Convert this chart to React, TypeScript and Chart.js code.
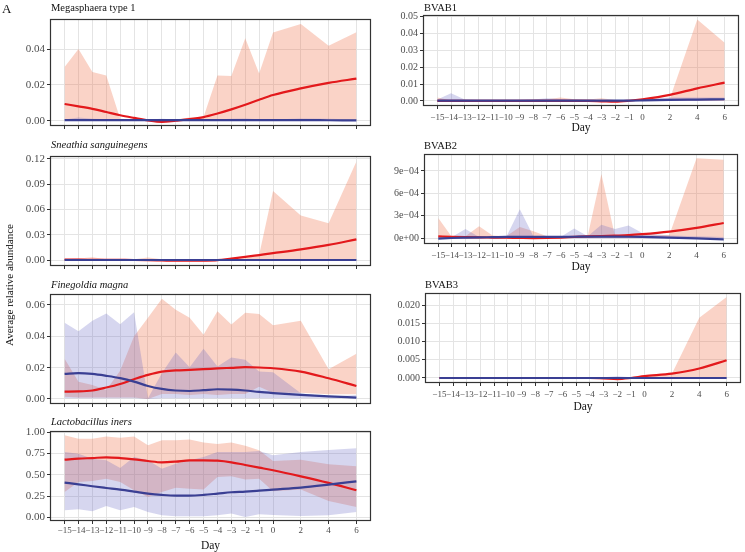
import React, { useEffect, useRef } from "react";
import { Chart, registerables } from "chart.js";

Chart.register(...registerables);

// ---------- data ----------
const DAYS = [-15, -14, -13, -12, -11, -10, -9, -8, -7, -6, -5, -4, -3, -2, -1, 0, 2, 4, 6];
const X_TICKS = [-15, -14, -13, -12, -11, -10, -9, -8, -7, -6, -5, -4, -3, -2, -1, 0, 2, 4, 6];

const ZEROS = [0, 0, 0, 0, 0, 0, 0, 0, 0, 0, 0, 0, 0, 0, 0, 0, 0, 0, 0];

// Megasphaera type 1
const MEGA_RED_UP = [0.03, 0.04, 0.0272, 0.0252, 0.001, 0.0006, 0.0006, 0.0006, 0.0006, 0.0017, 0.002, 0.0252, 0.025, 0.046, 0.0263, 0.0492, 0.054, 0.0418, 0.0494];
const MEGA_RED_LO = ZEROS;
const MEGA_BLUE_UP = [0.0006, 0.0017, 0.001, 0.0008, 0.0006, 0.0006, 0.0006, 0.001, 0.0006, 0.0006, 0.0008, 0.0006, 0.001, 0.0012, 0.0008, 0.0006, 0.0012, 0.001, 0.0006];
const MEGA_BLUE_LO = ZEROS;
const MEGA_RED_FIT = [0.0093, 0.008, 0.0066, 0.0048, 0.003, 0.0015, 0.0001, -0.0007, 0.0, 0.0008, 0.002, 0.004, 0.0063, 0.0089, 0.0117, 0.0143, 0.018, 0.0211, 0.0235];
const MEGA_BLUE_FIT = [0.0003, 0.0003, 0.0003, 0.0003, 0.0003, 0.0003, 0.0003, 0.0003, 0.0003, 0.0003, 0.0003, 0.0003, 0.0003, 0.0003, 0.0003, 0.0003, 0.0003, 0.0002, 0.0001];

// Sneathia sanguinegens
const SNEA_RED_UP = [0.001, 0.002, 0.0035, 0.001, 0.001, 0.001, 0.003, 0.001, 0.0005, 0.0005, 0.0005, 0.0005, 0.001, 0.002, 0.006, 0.082, 0.053, 0.0437, 0.117];
const SNEA_RED_LO = ZEROS;
const SNEA_BLUE_UP = [0.0006, 0.0006, 0.0006, 0.0006, 0.0006, 0.0006, 0.0006, 0.0006, 0.0006, 0.0006, 0.0006, 0.0006, 0.0006, 0.0006, 0.0006, 0.0006, 0.0006, 0.0006, 0.0006];
const SNEA_BLUE_LO = ZEROS;
const SNEA_RED_FIT = [0.0005, 0.0005, 0.0004, 0.0003, 0.0002, 0.0001, -0.0001, -0.0004, -0.0007, -0.0008, -0.0006, 0.0, 0.0018, 0.0038, 0.006, 0.0082, 0.0127, 0.018, 0.0246];
const SNEA_BLUE_FIT = [0.0001, 0.0001, 0.0001, 0.0001, 0.0001, 0.0001, 0.0001, 0.0001, 0.0001, 0.0001, 0.0001, 0.0001, 0.0001, 0.0001, 0.0001, 0.0001, 0.0001, 0.0001, 0.0001];

// Finegoldia magna
const FINE_RED_UP = [0.0257, 0.011, 0.009, 0.0058, 0.018, 0.04, 0.0518, 0.064, 0.057, 0.0518, 0.041, 0.056, 0.0475, 0.055, 0.0542, 0.047, 0.05, 0.019, 0.0288];
const FINE_RED_LO = [0.0015, 0.001, 0.001, 0.001, 0.001, 0.001, 0.0, 0.0032, 0.0032, 0.0026, 0.0032, 0.0026, 0.0032, 0.0032, 0.0078, 0.004, 0.004, 0.003, 0.003];
const FINE_BLUE_UP = [0.0486, 0.0432, 0.05, 0.0546, 0.0477, 0.0554, 0.0004, 0.0165, 0.0297, 0.0203, 0.032, 0.0208, 0.0265, 0.025, 0.0175, 0.017, 0.0036, 0.0015, 0.0026];
const FINE_BLUE_LO = [0.0005, 0.0005, 0.0005, 0.0005, 0.0005, 0.0005, 0.0, 0.0005, 0.0005, 0.0005, 0.0005, 0.0005, 0.0005, 0.0005, 0.0005, 0.0005, 0.0005, 0.0005, 0.0005];
const FINE_RED_FIT = [0.0047, 0.0048, 0.0054, 0.0073, 0.0096, 0.0126, 0.0154, 0.0175, 0.0182, 0.0186, 0.019, 0.0195, 0.0199, 0.0203, 0.0201, 0.0196, 0.0175, 0.0132, 0.0083];
const FINE_BLUE_FIT = [0.016, 0.0165, 0.016, 0.0148, 0.0133, 0.0111, 0.0083, 0.0064, 0.0054, 0.0051, 0.0056, 0.0062, 0.006, 0.0054, 0.0045, 0.0038, 0.0026, 0.0017, 0.0009];

// Lactobacillus iners
const LINE_RED_UP = [0.961, 0.922, 0.922, 0.949, 0.934, 0.949, 0.844, 0.903, 0.903, 0.914, 0.879, 0.86, 0.879, 0.84, 0.786, 0.661, 0.677, 0.623, 0.6];
const LINE_RED_LO = [0.3, 0.416, 0.428, 0.455, 0.416, 0.319, 0.241, 0.3, 0.35, 0.338, 0.327, 0.475, 0.482, 0.444, 0.455, 0.307, 0.327, 0.195, 0.125];
const LINE_BLUE_UP = [0.767, 0.747, 0.689, 0.669, 0.58, 0.708, 0.669, 0.572, 0.63, 0.669, 0.708, 0.767, 0.767, 0.767, 0.778, 0.728, 0.767, 0.79, 0.81];
const LINE_BLUE_LO = [0.086, 0.097, 0.074, 0.136, 0.086, 0.125, 0.066, 0.027, 0.016, 0.016, 0.016, 0.027, 0.047, 0.008, 0.039, 0.031, 0.019, 0.027, 0.066];
const LINE_RED_FIT = [0.677, 0.689, 0.696, 0.704, 0.696, 0.681, 0.661, 0.646, 0.654, 0.669, 0.669, 0.665, 0.646, 0.615, 0.584, 0.553, 0.482, 0.405, 0.319];
const LINE_BLUE_FIT = [0.409, 0.389, 0.366, 0.346, 0.327, 0.304, 0.28, 0.265, 0.257, 0.257, 0.265, 0.28, 0.296, 0.304, 0.315, 0.327, 0.35, 0.385, 0.424];

// BVAB1
const B1_RED_UP = [0.002, 0.0003, 0.0003, 0.0003, 0.0003, 0.0003, 0.0005, 0.0008, 0.001, 0.002, 0.001, 0.0008, 0.0016, 0.0005, 0.0003, 0.0005, 0.0015, 0.0484, 0.0346];
const B1_RED_LO = ZEROS;
const B1_BLUE_UP = [0.0008, 0.0045, 0.0008, 0.0005, 0.0005, 0.0005, 0.0005, 0.0008, 0.0016, 0.0012, 0.0008, 0.0005, 0.0005, 0.0005, 0.0005, 0.001, 0.002, 0.002, 0.002];
const B1_BLUE_LO = ZEROS;
const B1_RED_FIT = [0.0, 0.0, 0.0, 0.0, 0.0, 0.0, 0.0, 0.0, 0.0, 0.0, 0.0, 0.0, -0.0002, -0.0004, 0.0001, 0.001, 0.0036, 0.0075, 0.0109];
const B1_BLUE_FIT = [0.0002, 0.0002, 0.0002, 0.0002, 0.0002, 0.0002, 0.0002, 0.0002, 0.0002, 0.0002, 0.0002, 0.0002, 0.0002, 0.0002, 0.0002, 0.0003, 0.0006, 0.0008, 0.001];

// BVAB2
const B2_RED_UP = [0.00027, 0.000018, 0.000027, 0.00016, 0.000036, 0.000027, 0.00015, 0.000094, 0.000027, 0.000027, 0.000027, 0.000036, 0.00086, 0.000027, 0.000027, 0.000036, 0.000045, 0.00107, 0.00105];
const B2_RED_LO = [0.000005, 0.000005, 0.000005, 0.000005, 0.000005, 0.000005, 0.000005, 0.000005, 0.000005, 0.000005, 0.000005, 0.000005, 0.000005, 0.000005, 0.000005, 0.000005, 0.000005, 0.000005, 0.000005];
const B2_BLUE_UP = [0.0, 0.000018, 0.000125, 0.000018, 0.000018, 0.000018, 0.00039, 0.000027, 0.000018, 0.000018, 0.00013, 0.000027, 0.00018, 0.000125, 0.00017, 0.00007, 0.000036, 0.000027, 0.000018];
const B2_BLUE_LO = ZEROS;
const B2_RED_FIT = [0.000027, 0.00002, 0.000015, 0.000012, 0.00001, 0.000008, 0.000005, 0.000003, 0.000005, 0.00001, 0.000018, 0.000025, 0.000031, 0.000036, 0.000042, 0.000055, 0.00009, 0.00014, 0.000205];
const B2_BLUE_FIT = [-0.000004, 0.000004, 0.000009, 0.000013, 0.000015, 0.000018, 0.000018, 0.000018, 0.000019, 0.00002, 0.000021, 0.000022, 0.000022, 0.000022, 0.000021, 0.000018, 0.000009, -0.000002, -0.000013];

// BVAB3
const B3_RED_UP = [0.0001, 0.0001, 0.0001, 0.0001, 0.0001, 0.0001, 0.0001, 0.0001, 0.0001, 0.0001, 0.0001, 0.0001, 0.0001, 0.0001, 0.0001, 0.0002, 0.0012, 0.0166, 0.0223];
const B3_RED_LO = ZEROS;
const B3_BLUE_UP = [0.0001, 0.0001, 0.0001, 0.0001, 0.0001, 0.0001, 0.0001, 0.0001, 0.0001, 0.0001, 0.0001, 0.0001, 0.0002, 0.0005, 0.0002, 0.0001, 0.0001, 0.0001, 0.0001];
const B3_BLUE_LO = ZEROS;
const B3_RED_FIT = [0.0, 0.0, 0.0, 0.0, 0.0, 0.0, 0.0, 0.0, 0.0, 0.0, 0.0, 0.0, -0.0001, -0.0003, 0.0, 0.0005, 0.0012, 0.0026, 0.0049];
const B3_BLUE_FIT = ZEROS;

// tick values
const Y_TICKS_MEGA = [0, 0.02, 0.04];
const Y_TICKS_SNEA = [0, 0.03, 0.06, 0.09, 0.12];
const Y_TICKS_FINE = [0, 0.02, 0.04, 0.06];
const Y_TICKS_LINE = [0, 0.25, 0.5, 0.75, 1.0];
const Y_TICKS_B1 = [0, 0.01, 0.02, 0.03, 0.04, 0.05];
const Y_TICKS_B2 = [0, 0.0003, 0.0006, 0.0009];
const Y_TICKS_B3 = [0, 0.005, 0.01, 0.015, 0.02];

// ---------- styles ----------
const FONT = "'Liberation Serif', 'Times New Roman', serif";
const RED_LINE = "#e3191c";
const BLUE_LINE = "#3a3f93";
const RED_FILL = "rgba(240,110,70,0.3)";
const BLUE_FILL = "rgba(90,90,190,0.25)";
const GRID = "#e4e4e4";
const DARK = "#333333";
const TICK_TEXT = "#4d4d4d";

const minus = (s: string) => s.replace(/-/g, "\u2212");
const fmtFixed = (n: number) => (v: number) => minus(Number(v).toFixed(n));
const fmtSci = (v: number) => {
  if (Math.abs(v) < 1e-12) return "0e+00";
  const [m, e] = Number(v).toExponential(0).split("e");
  const ex = parseInt(e, 10);
  return `${m}e${ex < 0 ? "\u2212" : "+"}${String(Math.abs(ex)).padStart(2, "0")}`;
};

const pts = (arr: number[]) => DAYS.map((d, i) => ({ x: d, y: arr[i] }));

type Spec = {
  left: number; top: number; width: number; height: number;
  yAxisW: number; padTop: number; padRight: number; xAxisH: number;
  yMin: number; yMax: number; yTicks: number[]; yFmt: (v: number) => string;
  yFont: number; showX: boolean; xTickPad: number;
  redUp: number[]; redLo: number[]; blueUp: number[]; blueLo: number[]; redFit: number[]; blueFit: number[];
};

const boxPlugin = {
  id: "panelBox",
  afterDraw(chart: any) {
    const { ctx, chartArea } = chart;
    const l = Math.round(chartArea.left) + 0.5;
    const t = Math.round(chartArea.top) + 0.5;
    const r = Math.round(chartArea.right) - 0.5;
    const b = Math.round(chartArea.bottom) - 0.5;
    ctx.save();
    ctx.strokeStyle = DARK;
    ctx.lineWidth = 1.2;
    ctx.strokeRect(l, t, r - l, b - t);
    ctx.restore();
  },
};

function Panel({ s }: { s: Spec }) {
  const ref = useRef<HTMLCanvasElement | null>(null);
  useEffect(() => {
    if (!ref.current) return;
    const ribbon = (data: number[], color: string, fill: any) => ({
      data: pts(data),
      borderColor: "rgba(0,0,0,0)",
      borderWidth: 0,
      backgroundColor: color,
      fill,
      pointRadius: 0,
      tension: 0,
    });
    const fit = (data: number[], color: string) => ({
      data: pts(data),
      borderColor: color,
      borderWidth: 2.2,
      backgroundColor: color,
      fill: false,
      pointRadius: 0,
      cubicInterpolationMode: "monotone",
    });
    const chart = new Chart(ref.current, {
      type: "line",
      data: {
        datasets: [
          fit(s.blueFit, BLUE_LINE),
          fit(s.redFit, RED_LINE),
          ribbon(s.blueUp, BLUE_FILL, "+1"),
          ribbon(s.blueLo, "rgba(0,0,0,0)", false),
          ribbon(s.redUp, RED_FILL, "+1"),
          ribbon(s.redLo, "rgba(0,0,0,0)", false),
        ] as any,
      },
      options: {
        animation: false,
        responsive: false,
        maintainAspectRatio: false,
        events: [],
        layout: { padding: { top: s.padTop, right: s.padRight, left: 0, bottom: 0 } },
        plugins: {
          legend: { display: false },
          tooltip: { enabled: false },
          title: { display: false },
        },
        scales: {
          x: {
            type: "linear",
            min: -16.05,
            max: 7.05,
            afterBuildTicks: (sc: any) => {
              sc.ticks = X_TICKS.map((v) => ({ value: v }));
            },
            afterFit: (sc: any) => {
              sc.height = s.xAxisH;
            },
            grid: { color: GRID, lineWidth: 1, drawTicks: true, tickLength: 3, tickColor: DARK, tickWidth: 1 },
            border: { display: false },
            ticks: {
              display: s.showX,
              autoSkip: false,
              maxRotation: 0,
              minRotation: 0,
              padding: s.xTickPad,
              color: TICK_TEXT,
              font: { family: FONT, size: 9 },
              callback: (v: any) => minus(String(v)),
            },
            title: {
              display: s.showX,
              text: "Day",
              color: "#111",
              font: { family: FONT, size: 11.5, lineHeight: 1 },
              padding: { top: 0, bottom: 0 },
            },
          },
          y: {
            type: "linear",
            min: s.yMin,
            max: s.yMax,
            afterBuildTicks: (sc: any) => {
              sc.ticks = s.yTicks.map((v) => ({ value: v }));
            },
            afterFit: (sc: any) => {
              sc.width = s.yAxisW;
            },
            grid: { color: GRID, lineWidth: 1, drawTicks: true, tickLength: 3, tickColor: DARK, tickWidth: 1 },
            border: { display: false },
            ticks: {
              padding: 2,
              color: TICK_TEXT,
              font: { family: FONT, size: s.yFont },
              callback: (v: any) => s.yFmt(Number(v)),
            },
          },
        },
      } as any,
      plugins: [boxPlugin],
    });
    return () => chart.destroy();
  }, []);
  return (
    <canvas
      ref={ref}
      width={s.width}
      height={s.height}
      style={{ position: "absolute", left: s.left, top: s.top, width: s.width, height: s.height }}
    />
  );
}

const LEFT = { left: 0, width: 375, yAxisW: 50, padRight: 4 };

const PANELS: Spec[] = [
  { ...LEFT, top: 10, height: 126, padTop: 9, xAxisH: 10, yMin: -0.003, yMax: 0.0568, yTicks: Y_TICKS_MEGA, yFmt: fmtFixed(2), yFont: 11, showX: false, xTickPad: 0,
    redUp: MEGA_RED_UP, redLo: MEGA_RED_LO, blueUp: MEGA_BLUE_UP, blueLo: MEGA_BLUE_LO, redFit: MEGA_RED_FIT, blueFit: MEGA_BLUE_FIT },
  { ...LEFT, top: 147, height: 129, padTop: 9, xAxisH: 10, yMin: -0.007, yMax: 0.1235, yTicks: Y_TICKS_SNEA, yFmt: fmtFixed(2), yFont: 11, showX: false, xTickPad: 0,
    redUp: SNEA_RED_UP, redLo: SNEA_RED_LO, blueUp: SNEA_BLUE_UP, blueLo: SNEA_BLUE_LO, redFit: SNEA_RED_FIT, blueFit: SNEA_BLUE_FIT },
  { ...LEFT, top: 285, height: 129, padTop: 9, xAxisH: 10, yMin: -0.0032, yMax: 0.067, yTicks: Y_TICKS_FINE, yFmt: fmtFixed(2), yFont: 11, showX: false, xTickPad: 0,
    redUp: FINE_RED_UP, redLo: FINE_RED_LO, blueUp: FINE_BLUE_UP, blueLo: FINE_BLUE_LO, redFit: FINE_RED_FIT, blueFit: FINE_BLUE_FIT },
  { ...LEFT, top: 422, height: 130, padTop: 9, xAxisH: 31, yMin: -0.04, yMax: 1.012, yTicks: Y_TICKS_LINE, yFmt: fmtFixed(2), yFont: 11, showX: true, xTickPad: 1,
    redUp: LINE_RED_UP, redLo: LINE_RED_LO, blueUp: LINE_BLUE_UP, blueLo: LINE_BLUE_LO, redFit: LINE_RED_FIT, blueFit: LINE_BLUE_FIT },
  { left: 365, width: 380, top: 6, height: 128, yAxisW: 58, padRight: 6, padTop: 9, xAxisH: 28, yMin: -0.003, yMax: 0.051, yTicks: Y_TICKS_B1, yFmt: fmtFixed(2), yFont: 10, showX: true, xTickPad: 3,
    redUp: B1_RED_UP, redLo: B1_RED_LO, blueUp: B1_BLUE_UP, blueLo: B1_BLUE_LO, redFit: B1_RED_FIT, blueFit: B1_BLUE_FIT },
  { left: 365, width: 380, top: 145, height: 128, yAxisW: 59, padRight: 7, padTop: 9, xAxisH: 29, yMin: -0.000076, yMax: 0.001127, yTicks: Y_TICKS_B2, yFmt: fmtSci, yFont: 10, showX: true, xTickPad: 3,
    redUp: B2_RED_UP, redLo: B2_RED_LO, blueUp: B2_BLUE_UP, blueLo: B2_BLUE_LO, redFit: B2_RED_FIT, blueFit: B2_BLUE_FIT },
  { left: 365, width: 380, top: 284, height: 129, yAxisW: 60, padRight: 4, padTop: 9, xAxisH: 30, yMin: -0.00138, yMax: 0.0234, yTicks: Y_TICKS_B3, yFmt: fmtFixed(3), yFont: 10, showX: true, xTickPad: 3,
    redUp: B3_RED_UP, redLo: B3_RED_LO, blueUp: B3_BLUE_UP, blueLo: B3_BLUE_LO, redFit: B3_RED_FIT, blueFit: B3_BLUE_FIT },
];

const TITLES = [
  { text: "Megasphaera type 1", left: 51, cy: 7.5, italic: false },
  { text: "Sneathia sanguinegens", left: 51, cy: 145, italic: true },
  { text: "Finegoldia magna", left: 51, cy: 284.5, italic: true },
  { text: "Lactobacillus iners", left: 51, cy: 421.5, italic: true },
  { text: "BVAB1", left: 424, cy: 8, italic: false },
  { text: "BVAB2", left: 424, cy: 146, italic: false },
  { text: "BVAB3", left: 425, cy: 285, italic: false },
];

export default function App() {
  return (
    <div
      style={{
        position: "absolute",
        left: 0,
        top: 0,
        width: 745,
        height: 552,
        overflow: "hidden",
        background: "#ffffff",
        fontFamily: FONT,
        color: "#111",
      }}
    >
      {PANELS.map((s, i) => (
        <Panel key={i} s={s} />
      ))}
      {TITLES.map((t, i) => (
        <div
          key={"t" + i}
          style={{
            position: "absolute",
            left: t.left,
            top: t.cy - 7,
            fontSize: 10.5,
            lineHeight: "14px",
            fontStyle: t.italic ? "italic" : "normal",
            whiteSpace: "nowrap",
          }}
        >
          {t.text}
        </div>
      ))}
      <div style={{ position: "absolute", left: 2, top: 1, fontSize: 13, lineHeight: "16px" }}>A</div>
      <div
        style={{
          position: "absolute",
          left: 9,
          top: 285,
          transform: "translate(-50%, -50%) rotate(-90deg)",
          fontSize: 11,
          lineHeight: "14px",
          whiteSpace: "nowrap",
        }}
      >
        Average relative abundance
      </div>
    </div>
  );
}
